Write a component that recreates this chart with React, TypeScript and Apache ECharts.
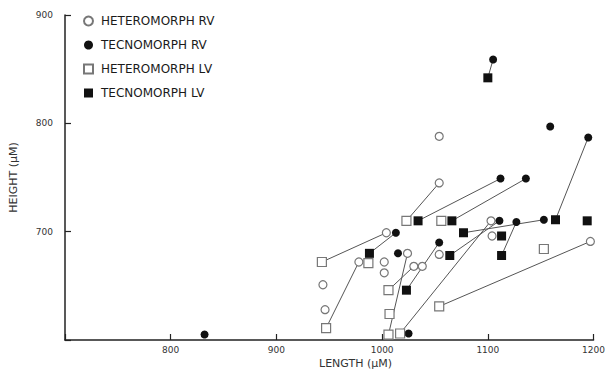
import React, { useEffect, useRef } from "react";
import * as echarts from "echarts";

// [length, height] in µm
const heteromorphRV: [number, number][] = [
  [1054, 788], [1054, 745], [1004, 699], [978, 672], [1002, 672], [1002, 662],
  [944, 651], [946, 628], [1024, 680], [1030, 668], [1038, 668], [1054, 679],
  [1103, 710], [1104, 696], [1197, 691],
];
const tecnomorphRV: [number, number][] = [
  [1105, 859], [1159, 797], [1195, 787], [1112, 749], [1136, 749], [1013, 699],
  [1015, 680], [1054, 690], [1025, 606], [1111, 710], [1127, 709], [1153, 711],
  [832, 605],
];
const heteromorphLV: [number, number][] = [
  [943, 672], [947, 611], [987, 671], [1006, 646], [1007, 624], [1006, 605],
  [1017, 606], [1023, 710], [1056, 710], [1054, 631], [1153, 684],
];
const tecnomorphLV: [number, number][] = [
  [1100, 842], [1034, 710], [1066, 710], [1077, 699], [1113, 696], [1113, 678],
  [1164, 711], [1194, 710], [1064, 678], [988, 680], [1023, 646],
];
// connected valve pairs: [x1, y1, x2, y2]
const pairs: [number, number, number, number][] = [
  [1100, 842, 1105, 859],
  [1195, 787, 1164, 711],
  [1112, 749, 1034, 710],
  [1136, 749, 1066, 710],
  [1054, 745, 1023, 710],
  [943, 672, 1004, 699],
  [1013, 699, 988, 680],
  [947, 611, 978, 672],
  [1006, 646, 1030, 668],
  [1024, 680, 1006, 605],
  [1023, 646, 1054, 690],
  [1017, 606, 1103, 710],
  [1054, 631, 1197, 691],
  [1064, 678, 1111, 710],
  [1077, 699, 1153, 711],
  [1113, 678, 1127, 709],
];
const xTicks = [700, 1200, 100];
const yTicks = [600, 900, 100];

const FONT = "DejaVu Sans";

export default function App() {
  const ref = useRef<HTMLDivElement>(null);
  useEffect(() => {
    if (!ref.current) return;
    const chart = echarts.init(ref.current, null, { renderer: "svg" });
    chart.setOption({
      animation: false,
      backgroundColor: "#ffffff",
      grid: { left: 59, right: 13, top: 15, bottom: 35, containLabel: false },
      legend: {
        orient: "vertical",
        left: 78,
        top: 10,
        itemWidth: 9,
        itemHeight: 9,
        itemGap: 12,
        data: ["HETEROMORPH RV", "TECNOMORPH RV", "HETEROMORPH LV", "TECNOMORPH LV"],
        textStyle: { fontFamily: FONT, fontSize: 12, color: "#1a1a1a", padding: [0, 0, 0, 3] },
      },
      xAxis: {
        type: "value",
        min: xTicks[0],
        max: xTicks[1],
        interval: xTicks[2],
        axisLine: { lineStyle: { color: "#222", width: 1.5 } },
        axisTick: { inside: true, length: 6, lineStyle: { color: "#222", width: 1.2 } },
        axisLabel: {
          margin: 5,
          fontFamily: FONT,
          fontSize: 9,
          color: "#333",
          formatter: (v: number) => (v === xTicks[0] ? "" : String(v)),
        },
        splitLine: { show: false },
      },
      yAxis: {
        type: "value",
        min: yTicks[0],
        max: yTicks[1],
        interval: yTicks[2],
        name: "HEIGHT (µM)",
        nameLocation: "middle",
        nameGap: 46,
        nameTextStyle: { fontFamily: FONT, fontSize: 11, color: "#333" },
        axisLine: { lineStyle: { color: "#222", width: 1.5 } },
        axisTick: { inside: true, length: 6, lineStyle: { color: "#222", width: 1.2 } },
        axisLabel: {
          margin: 12,
          fontFamily: FONT,
          fontSize: 9,
          color: "#333",
          formatter: (v: number) => (v === yTicks[0] ? "" : String(v)),
        },
        splitLine: { show: false },
      },
      graphic: [
        {
          type: "text",
          left: 319,
          top: 358,
          style: { text: "LENGTH (µM)", fontFamily: FONT, fontSize: 11, fill: "#333" },
        },
      ],
      series: [
        {
          type: "lines",
          coordinateSystem: "cartesian2d",
          silent: true,
          z: 1,
          lineStyle: { color: "#555", width: 1, opacity: 1 },
          data: pairs.map((p) => ({ coords: [[p[0], p[1]], [p[2], p[3]]] })),
        },
        {
          name: "HETEROMORPH RV",
          type: "scatter",
          symbol: "circle",
          symbolSize: 8,
          z: 3,
          itemStyle: { color: "#fff", borderColor: "#777", borderWidth: 1.2, opacity: 1 },
          data: heteromorphRV,
        },
        {
          name: "TECNOMORPH RV",
          type: "scatter",
          symbol: "circle",
          symbolSize: 8,
          z: 3,
          itemStyle: { color: "#111", opacity: 1 },
          data: tecnomorphRV,
        },
        {
          name: "HETEROMORPH LV",
          type: "scatter",
          symbol: "rect",
          symbolSize: 9,
          z: 3,
          itemStyle: { color: "#fff", borderColor: "#777", borderWidth: 1.2, opacity: 1 },
          data: heteromorphLV,
        },
        {
          name: "TECNOMORPH LV",
          type: "scatter",
          symbol: "rect",
          symbolSize: 9,
          z: 3,
          itemStyle: { color: "#111", opacity: 1 },
          data: tecnomorphLV,
        },
      ],
    });
    return () => chart.dispose();
  }, []);
  return <div ref={ref} style={{ width: 608, height: 375, position: "absolute", left: 0, top: 0 }} />;
}
